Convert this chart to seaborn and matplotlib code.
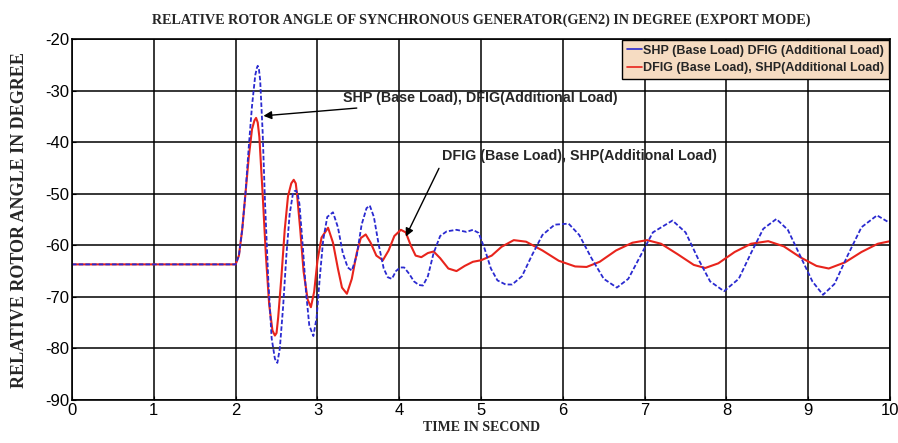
"""
Relative rotor angle of GEN2 (export mode): SHP vs DFIG base/additional load.
Values read off the reference figure.
"""
import matplotlib
matplotlib.use("Agg")
import matplotlib.pyplot as plt
import seaborn as sns
import pandas as pd
from matplotlib.lines import Line2D

# --- data (time in s, angle in degree) ---------------------------------------
shp_base_t = [0.0, 2.0, 2.04, 2.08, 2.12, 2.16, 2.20, 2.24, 2.26, 2.27, 2.285, 2.30, 2.33, 2.36,
              2.40, 2.44, 2.48, 2.51, 2.54, 2.58, 2.62, 2.66, 2.70, 2.72, 2.74, 2.76, 2.78, 2.82,
              2.86, 2.90, 2.95, 2.99, 3.03, 3.07, 3.12, 3.19, 3.25, 3.31, 3.37, 3.42,
              3.48, 3.54, 3.60, 3.64, 3.69, 3.75, 3.81, 3.86, 3.91, 3.96, 4.01, 4.06,
              4.12, 4.18, 4.24, 4.29, 4.35, 4.42, 4.50, 4.58, 4.70, 4.82, 4.90, 4.97,
              5.04, 5.12, 5.20, 5.30, 5.38, 5.50, 5.62, 5.75, 5.90, 6.07, 6.20, 6.35,
              6.50, 6.66, 6.80, 6.95, 7.10, 7.34, 7.50, 7.65, 7.80, 7.97, 8.15, 8.30,
              8.45, 8.61, 8.75, 8.90, 9.05, 9.18, 9.32, 9.48, 9.65, 9.84, 10.0]
shp_base_y = [-63.7, -63.7, -62.0, -57.0, -50.0, -41.0, -33.0, -27.0, -25.6, -25.2, -25.9, -28.0,
              -38.0, -52.0, -67.0, -78.0, -82.0, -82.8, -80.0, -72.0, -62.0, -54.0, -50.0, -49.5,
              -49.4, -50.2, -52.0, -60.0, -69.0, -75.5, -77.6, -74.0, -66.0, -59.0, -54.5, -53.6,
              -56.5, -61.5, -64.3, -64.9, -62.0, -56.0, -52.8, -52.3, -54.5, -60.0, -64.5, -66.2,
              -66.5, -65.0, -64.3, -64.3, -65.5, -67.0, -67.7, -67.8, -66.0, -61.5, -58.2, -57.3,
              -57.0, -57.4, -57.0, -57.6, -60.5, -64.5, -66.8, -67.6, -67.6, -66.0, -62.0, -58.0,
              -56.0, -55.8, -58.0, -62.5, -66.5, -68.2, -66.5, -62.0, -57.5, -55.2, -57.5, -62.5,
              -67.0, -68.9, -66.5, -61.5, -56.8, -54.9, -57.0, -62.0, -67.0, -69.6, -67.5, -62.0,
              -56.5, -54.2, -55.7]

dfig_base_t = [0.0, 2.0, 2.04, 2.08, 2.12, 2.16, 2.20, 2.23, 2.25, 2.27, 2.29, 2.33, 2.37, 2.41,
               2.45, 2.48, 2.50, 2.52, 2.56, 2.60, 2.64, 2.68, 2.71, 2.735, 2.75, 2.79, 2.83,
               2.88, 2.92, 2.96, 3.00, 3.05, 3.13, 3.19, 3.25, 3.30, 3.36, 3.42, 3.48, 3.53,
               3.59, 3.65, 3.72, 3.80, 3.87, 3.94, 4.02, 4.08, 4.14, 4.20, 4.27, 4.35, 4.42,
               4.50, 4.60, 4.70, 4.80, 4.90, 5.00, 5.13, 5.25, 5.40, 5.55, 5.75, 5.95,
               6.15, 6.29, 6.45, 6.65, 6.85, 7.03, 7.20, 7.40, 7.60, 7.74, 7.90, 8.10,
               8.30, 8.51, 8.70, 8.90, 9.10, 9.25, 9.45, 9.65, 9.85, 10.0]
dfig_base_y = [-63.7, -63.7, -62.0, -57.0, -50.0, -43.0, -37.5, -35.8, -35.3, -36.2, -39.0,
               -50.0, -62.0, -71.5, -76.5, -77.5, -77.0, -74.0, -66.0, -57.0, -50.5, -48.0,
               -47.3, -48.0, -50.0, -57.0, -65.0, -70.5, -72.0, -69.0, -63.0, -58.5, -56.6,
               -59.5, -64.5, -68.2, -69.4, -66.5, -61.5, -58.6, -57.9, -59.5, -62.0, -62.9,
               -61.0, -58.2, -57.0, -57.5, -60.0, -62.0, -62.3, -61.5, -61.2, -62.5, -64.5,
               -65.0, -64.0, -63.2, -62.9, -62.0, -60.3, -59.0, -59.3, -61.0, -63.0, -64.1,
               -64.2, -63.2, -61.0, -59.5, -59.0, -59.7, -61.7, -63.8, -64.4, -63.5, -61.3,
               -59.7, -59.2, -60.2, -62.3, -64.0, -64.5, -63.3, -61.3, -59.7, -59.2]

x_ticks = list(range(0, 11))
y_ticks = list(range(-90, -19, 10))

LEGEND_LABELS = ["SHP (Base Load) DFIG (Additional Load)",
                 "DFIG (Base Load), SHP(Additional Load)"]
BLUE = "#2a2ad0"
RED = "#e8241c"

sns.set_style("ticks")
SANS = ["Liberation Sans", "DejaVu Sans"]
SERIF = ["Liberation Serif", "DejaVu Serif"]
plt.rcParams["font.family"] = SANS
plt.rcParams["axes.unicode_minus"] = False


def main():
    shp = pd.DataFrame({"t": shp_base_t, "angle": shp_base_y})
    dfig = pd.DataFrame({"t": dfig_base_t, "angle": dfig_base_y})

    fig = plt.figure(figsize=(8.98, 4.43), dpi=100)
    ax = fig.add_axes([0.0802, 0.097, 0.911, 0.815])

    sns.lineplot(data=dfig, x="t", y="angle", ax=ax, color=RED, lw=1.5, sort=False)
    sns.lineplot(data=shp, x="t", y="angle", ax=ax, color=BLUE, lw=1.3,
                 linestyle=(0, (2.5, 1.2)), sort=False)

    ax.set_xlim(0, 10)
    ax.set_ylim(-90, -20)
    ax.set_xticks(x_ticks)
    ax.set_yticks(y_ticks)
    ax.grid(True, color="black", lw=1.1)
    ax.set_axisbelow(True)
    for sp in ax.spines.values():
        sp.set_color("black")
        sp.set_linewidth(1.2)
    ax.tick_params(direction="in", length=3, labelsize=12, colors="black", pad=2)

    ax.set_xlabel("TIME IN SECOND", family=SERIF, fontweight="bold", fontsize=10, labelpad=2)
    ax.set_ylabel("RELATIVE ROTOR ANGLE IN DEGREE", family=SERIF, fontweight="bold",
                  fontsize=13, labelpad=12)
    ax.set_title("RELATIVE ROTOR ANGLE OF SYNCHRONOUS GENERATOR(GEN2) IN DEGREE (EXPORT MODE)",
                 family=SERIF, fontweight="bold", fontsize=10.2, pad=11)

    handles = [Line2D([], [], color=BLUE, lw=1.2), Line2D([], [], color=RED, lw=1.2)]
    leg = ax.legend(handles, LEGEND_LABELS, loc="upper right",
                    prop={"family": SANS, "weight": "bold", "size": 9.0},
                    handlelength=1.2, handletextpad=0.1, borderpad=0.4,
                    labelspacing=0.45, fancybox=False, framealpha=1,
                    borderaxespad=0.05)
    leg.get_frame().set_facecolor("#f6dcc2")
    leg.get_frame().set_edgecolor("black")
    leg.get_frame().set_linewidth(1.0)

    ax.annotate("SHP (Base Load), DFIG(Additional Load)", xy=(2.34, -34.9),
                xytext=(3.31, -31.4), va="center", ha="left", fontsize=10.3,
                family=SANS, fontweight="bold",
                arrowprops=dict(arrowstyle="-|>", color="black", lw=1.0,
                                mutation_scale=12, shrinkA=0, shrinkB=0))
    ax.annotate("DFIG (Base Load), SHP(Additional Load)", xy=(4.08, -58.3),
                xytext=(4.52, -42.6), va="center", ha="left", fontsize=10.3,
                family=SANS, fontweight="bold",
                arrowprops=dict(arrowstyle="-|>", color="black", lw=1.0,
                                mutation_scale=12, shrinkA=2, shrinkB=0,
                                relpos=(0.0, 0.0)))

    fig.savefig("out.png", dpi=100)
    plt.close(fig)


if __name__ == "__main__":
    main()
